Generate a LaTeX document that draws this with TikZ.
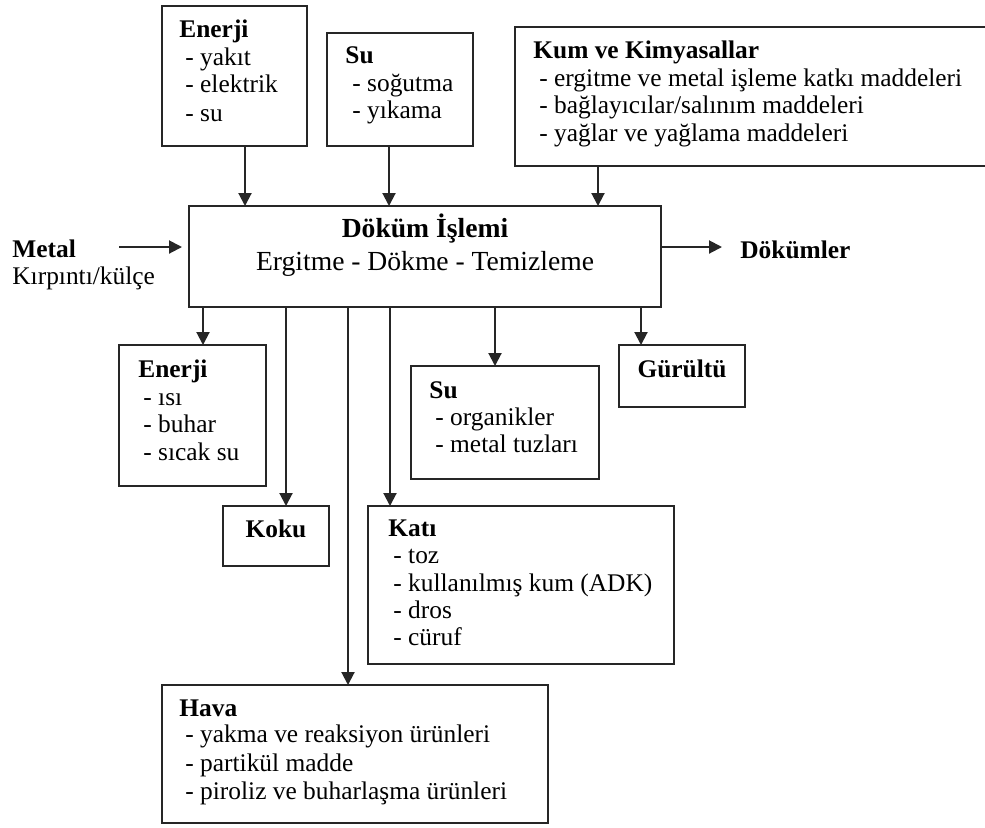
\documentclass[tikz,border=0pt]{standalone}
\usepackage{fontspec}
\setmainfont{Liberation Serif}
\usetikzlibrary{arrows.meta}
\tikzset{
  bx/.style 2 args={draw=black!85, line width=1pt, minimum width=#1*0.5pt, minimum height=#2*0.5pt, anchor=north west, inner sep=0pt, outer sep=0pt},
  txt/.style={anchor=base west, inner sep=0pt, font=\fontsize{12.7}{14}\selectfont},
  ttl/.style={anchor=base west, inner sep=0pt, font=\fontsize{12.7}{14}\selectfont\bfseries},
  ctr/.style={anchor=base, inner sep=0pt, font=\fontsize{12.7}{14}\selectfont\bfseries},
  arr/.style={draw=black!85, line width=1pt, -{Triangle[length=6.5pt,width=6.5pt]}},
}
\begin{document}
\begin{tikzpicture}[x=0.5pt,y=-0.5pt]
\useasboundingbox (0,0) rectangle (985,827);
\clip (0,0) rectangle (985,827);
\fill[white] (0,0) rectangle (985,827);
% boxes
\node[bx={145}{140}] (E1) at (162,6) {};
\node[bx={146}{113}] (S1) at (327,33) {};
\node[bx={480}{139}] (K1) at (515,27) {};
\node[bx={472}{101}] (M) at (189,206) {};
\node[bx={147}{141}] (E2) at (119,345) {};
\node[bx={106}{60}] (Ko) at (223,506) {};
\node[bx={188}{113}] (S2) at (411,366) {};
\node[bx={126}{62}] (G) at (619,345) {};
\node[bx={306}{158}] (Ka) at (368,506) {};
\node[bx={386}{138}] (H) at (162,685) {};
% texts
\node[ttl] (e1t) at (179,37) {Enerji};
\node[txt] (e1a) at (185,65) {- yakıt};
\node[txt] (e1b) at (185,92) {- elektrik};
\node[txt] (e1c) at (185,121) {- su};
\node[ttl] (s1t) at (345,63) {Su};
\node[txt] (s1a) at (352,91) {- soğutma};
\node[txt] (s1b) at (352,118) {- yıkama};
\node[ttl] (k1t) at (533,58) {Kum ve Kimyasallar};
\node[txt] (k1a) at (539,86) {- ergitme ve metal işleme katkı maddeleri};
\node[txt] (k1b) at (539,113) {- bağlayıcılar/salınım maddeleri};
\node[txt] (k1c) at (539,141) {- yağlar ve yağlama maddeleri};
\node[anchor=base, inner sep=0pt, font=\fontsize{13.8}{15}\selectfont\bfseries] (mt) at (425,237) {Döküm İşlemi};
\node[anchor=base, inner sep=0pt, font=\fontsize{13.8}{15}\selectfont] (ms) at (425,270) {Ergitme - Dökme - Temizleme};
\node[ttl] (mlt) at (12,257) {Metal};
\node[txt] (mls) at (12,284) {Kırpıntı/külçe};
\node[ttl] (dk) at (740,258) {Dökümler};
\node[ctr] (gt) at (682,377) {Gürültü};
\node[ctr] (kot) at (276,537) {Koku};
\node[ttl] (e2t) at (138,377) {Enerji};
\node[txt] (e2a) at (143,405) {- ısı};
\node[txt] (e2b) at (143,432) {- buhar};
\node[txt] (e2c) at (143,460) {- sıcak su};
\node[ttl] (s2t) at (429,398) {Su};
\node[txt] (s2a) at (435,425) {- organikler};
\node[txt] (s2b) at (435,452) {- metal tuzları};
\node[ttl] (kat) at (388,536) {Katı};
\node[txt] (kaa) at (393,563) {- toz};
\node[txt] (kab) at (393,591) {- kullanılmış kum (ADK)};
\node[txt] (kac) at (393,618) {- dros};
\node[txt] (kad) at (393,645) {- cüruf};
\node[ttl] (ht) at (179,716) {Hava};
\node[txt] (ha) at (185,742) {- yakma ve reaksiyon ürünleri};
\node[txt] (hb) at (185,771) {- partikül madde};
\node[txt] (hc) at (185,799) {- piroliz ve buharlaşma ürünleri};
% connectors
\coordinate (metin) at (119,247);
\coordinate (dkout) at (722,247);
\draw[arr] (245,0 |- E1.south) -- (245,0 |- M.north);
\draw[arr] (389,0 |- S1.south) -- (389,0 |- M.north);
\draw[arr] (598,0 |- K1.south) -- (598,0 |- M.north);
\draw[arr, shorten >=3.5pt] (metin) -- (metin -| M.west);
\draw[arr] (dkout -| M.east) -- (dkout);
\draw[arr] (203,0 |- M.south) -- (203,0 |- E2.north);
\draw[arr] (286,0 |- M.south) -- (286,0 |- Ko.north);
\draw[arr] (348,0 |- M.south) -- (348,0 |- H.north);
\draw[arr] (390,0 |- M.south) -- (390,0 |- Ka.north);
\draw[arr] (495,0 |- M.south) -- (495,0 |- S2.north);
\draw[arr] (641,0 |- M.south) -- (641,0 |- G.north);
\end{tikzpicture}
\end{document}
